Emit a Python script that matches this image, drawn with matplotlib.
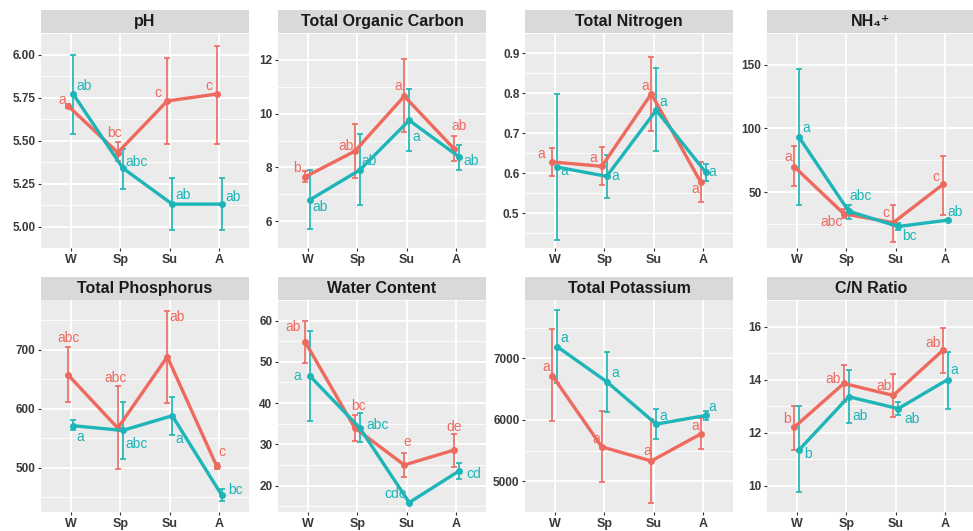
import matplotlib
matplotlib.use("Agg")
import matplotlib.pyplot as plt
import numpy as np

plt.rcParams['font.family'] = ['Liberation Sans', 'DejaVu Sans']

seasons = ['W', 'Sp', 'Su', 'A']
titles = ['pH', 'Total Organic Carbon', 'Total Nitrogen', 'NH₄⁺',
          'Total Phosphorus', 'Water Content', 'Total Potassium', 'C/N Ratio']

# --- data: red series (mean, lower, upper), teal series (mean, lower, upper), letters
ph_red = [5.70, 5.43, 5.73, 5.77]
ph_red_lo = [5.69, 5.38, 5.48, 5.48]
ph_red_hi = [5.71, 5.49, 5.98, 6.05]
ph_teal = [5.77, 5.34, 5.13, 5.13]
ph_teal_lo = [5.54, 5.22, 4.98, 4.98]
ph_teal_hi = [6.00, 5.45, 5.28, 5.28]
ph_red_lab = ['a', 'bc', 'c', 'c']
ph_teal_lab = ['ab', 'abc', 'ab', 'ab']

toc_red = [7.65, 8.60, 10.65, 8.70]
toc_red_lo = [7.45, 7.60, 9.30, 8.25]
toc_red_hi = [7.85, 9.60, 12.05, 9.15]
toc_teal = [6.80, 7.90, 9.75, 8.40]
toc_teal_lo = [5.70, 6.60, 8.60, 7.90]
toc_teal_hi = [7.90, 9.25, 10.90, 8.85]
toc_red_lab = ['b', 'ab', 'a', 'ab']
toc_teal_lab = ['ab', 'ab', 'a', 'ab']

tn_red = [0.628, 0.617, 0.798, 0.577]
tn_red_lo = [0.592, 0.570, 0.705, 0.527]
tn_red_hi = [0.663, 0.665, 0.890, 0.628]
tn_teal = [0.615, 0.592, 0.757, 0.602]
tn_teal_lo = [0.432, 0.537, 0.655, 0.580]
tn_teal_hi = [0.797, 0.645, 0.862, 0.622]
tn_red_lab = ['a', 'a', 'a', 'a']
tn_teal_lab = ['a', 'a', 'a', 'a']

nh4_red = [70, 33, 26, 56]
nh4_red_lo = [55, 30, 11, 32]
nh4_red_hi = [86, 37, 40, 78]
nh4_teal = [93, 35, 23, 28]
nh4_teal_lo = [40, 29, 20, 27]
nh4_teal_hi = [147, 40, 26, 29]
nh4_red_lab = ['a', 'abc', 'c', 'c']
nh4_teal_lab = ['a', 'abc', 'bc', 'ab']

tp_red = [657, 567, 688, 502]
tp_red_lo = [611, 497, 609, 497]
tp_red_hi = [704, 638, 766, 507]
tp_teal = [571, 563, 588, 453]
tp_teal_lo = [563, 515, 556, 443]
tp_teal_hi = [580, 612, 620, 464]
tp_red_lab = ['abc', 'abc', 'ab', 'c']
tp_teal_lab = ['a', 'abc', 'a', 'bc']

wc_red = [54.8, 34.0, 25.0, 28.6]
wc_red_lo = [49.7, 30.7, 22.0, 24.6]
wc_red_hi = [59.8, 37.2, 28.0, 32.5]
wc_teal = [46.5, 34.0, 15.9, 23.5]
wc_teal_lo = [35.6, 30.5, 15.7, 21.6]
wc_teal_hi = [57.5, 37.5, 16.2, 25.6]
wc_red_lab = ['ab', 'bc', 'e', 'de']
wc_teal_lab = ['a', 'abc', 'cde', 'cd']

tk_red = [6720, 5560, 5330, 5770]
tk_red_lo = [5980, 4980, 4650, 5520]
tk_red_hi = [7470, 6150, 6010, 6030]
tk_teal = [7190, 6620, 5930, 6070]
tk_teal_lo = [6600, 6120, 5690, 6000]
tk_teal_hi = [7780, 7110, 6170, 6150]
tk_red_lab = ['a', 'a', 'a', 'a']
tk_teal_lab = ['a', 'a', 'a', 'a']

cn_red = [12.2, 13.85, 13.4, 15.1]
cn_red_lo = [11.35, 13.15, 12.6, 14.25]
cn_red_hi = [13.0, 14.55, 14.2, 15.95]
cn_teal = [11.35, 13.35, 12.9, 14.0]
cn_teal_lo = [9.75, 12.35, 12.65, 12.9]
cn_teal_hi = [13.0, 14.35, 13.15, 15.05]
cn_red_lab = ['b', 'ab', 'ab', 'ab']
cn_teal_lab = ['b', 'ab', 'ab', 'a']

# y tick values per panel
ph_ticks = [5.00, 5.25, 5.50, 5.75, 6.00]
toc_ticks = [6, 8, 10, 12]
tn_ticks = [0.5, 0.6, 0.7, 0.8, 0.9]
nh4_ticks = [50, 100, 150]
tp_ticks = [500, 600, 700]
wc_ticks = [20, 30, 40, 50, 60]
tk_ticks = [5000, 6000, 7000]
cn_ticks = [10, 12, 14, 16]

# ---- styling / layout (not data) ----
RED = '#EE6A5F'
TEAL = '#1DB5B8'
panels = [
    dict(r=ph_red, rl=ph_red_lo, rh=ph_red_hi, t=ph_teal, tl=ph_teal_lo, th=ph_teal_hi,
         rlab=ph_red_lab, tlab=ph_teal_lab, ticks=ph_ticks, fmt='{:.2f}', ylim=(4.928, 6.116),
         roff=[(-4.5, 4.5), (-2, 14), (-6.5, 6), (-6, 6)],
         toff=[(8, 6), (10, 4.5), (8, 6.5), (8, 5)]),
    dict(r=toc_red, rl=toc_red_lo, rh=toc_red_hi, t=toc_teal, tl=toc_teal_lo, th=toc_teal_hi,
         rlab=toc_red_lab, tlab=toc_teal_lab, ticks=toc_ticks, fmt='{:d}', ylim=(5.41, 12.45),
         roff=[(-6, 6.5), (-6.5, 4), (-4, 7), (4, 16)],
         toff=[(7, -5.5), (7, 6.5), (5, -12), (9, -3)]),
    dict(r=tn_red, rl=tn_red_lo, rh=tn_red_hi, t=tn_teal, tl=tn_teal_lo, th=tn_teal_hi,
         rlab=tn_red_lab, tlab=tn_teal_lab, ticks=tn_ticks, fmt='{:.1f}', ylim=(0.413, 0.915),
         roff=[(-8, 6), (-6, 6), (-4, 6), (-4, -5)],
         toff=[(5, -3), (6.5, 0), (5, 6), (5, 0)]),
    dict(r=nh4_red, rl=nh4_red_lo, rh=nh4_red_hi, t=nh4_teal, tl=nh4_teal_lo, th=nh4_teal_hi,
         rlab=nh4_red_lab, tlab=nh4_teal_lab, ticks=nh4_ticks, fmt='{:d}', ylim=(6.1, 154.3),
         roff=[(-4, 7), (-9, -6), (-5, 7), (-5, 5.5)],
         toff=[(5, 7), (8.5, 11), (8, -7), (5, 6)]),
    dict(r=tp_red, rl=tp_red_lo, rh=tp_red_hi, t=tp_teal, tl=tp_teal_lo, th=tp_teal_hi,
         rlab=tp_red_lab, tlab=tp_teal_lab, ticks=tp_ticks, fmt='{:d}', ylim=(424.5, 784.5),
         roff=[(0.5, 27), (-1.5, 36), (7, 29), (4, 10)],
         toff=[(5, -8), (10, -10), (5, -17), (10, 3.5)]),
    dict(r=wc_red, rl=wc_red_lo, rh=wc_red_hi, t=wc_teal, tl=wc_teal_lo, th=wc_teal_hi,
         rlab=wc_red_lab, tlab=wc_teal_lab, ticks=wc_ticks, fmt='{:d}', ylim=(13.6, 62.1),
         roff=[(-9, 11), (3, 16), (2, 16.5), (0, 16.5)],
         toff=[(-9, 0), (13, 2), (-10, 6), (11, -2)]),
    dict(r=tk_red, rl=tk_red_lo, rh=tk_red_hi, t=tk_teal, tl=tk_teal_lo, th=tk_teal_hi,
         rlab=tk_red_lab, tlab=tk_teal_lab, ticks=tk_ticks, fmt='{:d}', ylim=(4541, 7949),
         roff=[(-4, 6.5), (-4, 6), (-3, 7), (-4, 6)],
         toff=[(5, 6), (6, 6), (5, 6), (4.5, 6)]),
    dict(r=cn_red, rl=cn_red_lo, rh=cn_red_hi, t=cn_teal, tl=cn_teal_lo, th=cn_teal_hi,
         rlab=cn_red_lab, tlab=cn_teal_lab, ticks=cn_ticks, fmt='{:d}', ylim=(9.48, 16.26),
         roff=[(-5, 6), (-8, 3.5), (-7, 6.5), (-7, 5)],
         toff=[(6.5, -3), (8.5, -14), (10, -7.5), (5, 6.5)]),
]

W_PX, H_PX = 973, 531
fig = plt.figure(figsize=(W_PX / 100, H_PX / 100), dpi=100)
fig.patch.set_facecolor('white')

lefts = [41, 278, 525, 767]
pw = 208
rows = [dict(strip_top=10, panel_top=33, panel_bot=248),
        dict(strip_top=277, panel_top=300, panel_bot=512)]

x = np.arange(len(seasons))
dodge = 0.05

for i, p in enumerate(panels):
    row = rows[i // 4]
    left = lefts[i % 4]
    ax = fig.add_axes([left / W_PX, 1 - row['panel_bot'] / H_PX, pw / W_PX,
                       (row['panel_bot'] - row['panel_top']) / H_PX])
    sax = fig.add_axes([left / W_PX, 1 - row['panel_top'] / H_PX, pw / W_PX,
                        (row['panel_top'] - row['strip_top']) / H_PX])
    sax.set_facecolor('#D9D9D9')
    sax.set_xticks([]); sax.set_yticks([])
    for s in sax.spines.values():
        s.set_visible(False)
    sax.text(0.5, 0.48, titles[i], ha='center', va='center', fontsize=11.5,
             fontweight='bold', color='#1A1A1A', transform=sax.transAxes)

    ax.set_facecolor('#EBEBEB')
    for s in ax.spines.values():
        s.set_visible(False)
    ax.set_xlim(-0.6, 3.6)
    ax.set_ylim(*p['ylim'])
    ticks = p['ticks']
    step = ticks[1] - ticks[0]
    minors = [t - step / 2 for t in ticks] + [ticks[-1] + step / 2]
    ax.set_yticks(ticks)
    ax.set_yticklabels([p['fmt'].format(t) for t in ticks])
    ax.set_yticks(minors, minor=True)
    ax.set_xticks(x)
    ax.set_xticklabels(seasons)
    ax.grid(True, which='major', color='white', lw=1.3, zorder=0)
    ax.grid(True, which='minor', axis='y', color='white', lw=0.6, zorder=0)
    ax.set_axisbelow(True)
    ax.tick_params(axis='both', which='major', length=2.5, width=0.8, color='#333333',
                   labelcolor='#3A3A3A', pad=1.5)
    ax.tick_params(axis='y', which='minor', length=0)
    ax.tick_params(axis='y', labelsize=8.5)
    ax.tick_params(axis='x', labelsize=9)
    for lab in ax.get_xticklabels() + ax.get_yticklabels():
        lab.set_fontweight('bold')

    for vals, lo, hi, labs, offs, col, dx in [
            (p['r'], p['rl'], p['rh'], p['rlab'], p['roff'], RED, -dodge),
            (p['t'], p['tl'], p['th'], p['tlab'], p['toff'], TEAL, dodge)]:
        xs = x + dx
        vals = np.array(vals, dtype=float)
        yerr = [vals - np.array(lo, dtype=float), np.array(hi, dtype=float) - vals]
        ax.errorbar(xs, vals, yerr=yerr, fmt='none', ecolor=col, elinewidth=1.2,
                    capsize=2.5, capthick=1.2, zorder=3)
        ax.plot(xs, vals, color=col, lw=2.4, marker='o', ms=4, zorder=4,
                solid_capstyle='round')
        for xi, yi, lab, off in zip(xs, vals, labs, offs):
            ax.annotate(lab, (xi, yi), xytext=off, textcoords='offset points',
                        ha='center', va='center', fontsize=10, color=col, zorder=5)

fig.savefig('out.png', dpi=100, facecolor='white')
